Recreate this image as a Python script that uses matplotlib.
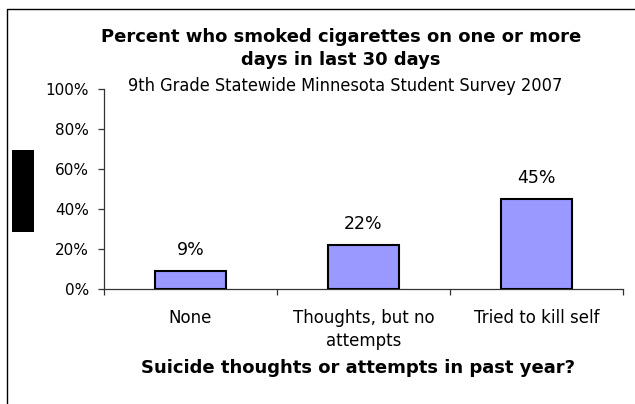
import matplotlib
matplotlib.use("Agg")
import matplotlib.pyplot as plt
from matplotlib.lines import Line2D
from matplotlib.patches import Rectangle
from matplotlib.ticker import PercentFormatter, FixedLocator, FixedFormatter

categories = ["None", "Thoughts, but no\nattempts", "Tried to kill self"]
values = [9, 22, 45]
value_labels = ["9%", "22%", "45%"]
yticks = [0, 20, 40, 60, 80, 100]

W, H = 635, 404
fig = plt.figure(figsize=(W / 100, H / 100), dpi=100)
fig.patch.set_facecolor("white")
plt.rcParams["font.family"] = ["DejaVu Sans"]

def fx(px):
    return px / W

def fy(py):
    return 1 - py / H

ax = fig.add_axes([fx(104), fy(289.3), fx(623) - fx(104), fy(89.3) - fy(289.3)])
x = list(range(len(categories)))
ax.bar(x, values, width=0.405, color="#9999FF", edgecolor="black", linewidth=1.5, zorder=3)
ax.set_xlim(-0.5, len(categories) - 0.5)
ax.set_ylim(0, 100)
ax.set_yticks(yticks)
ax.yaxis.set_major_formatter(PercentFormatter(decimals=0))
ax.set_xticks([i + 0.5 for i in range(-1, len(categories))])
ax.set_xticklabels([])
ax.xaxis.set_minor_locator(FixedLocator(x))
ax.xaxis.set_minor_formatter(FixedFormatter(categories))
for s in ["top", "right"]:
    ax.spines[s].set_visible(False)
for s in ["left", "bottom"]:
    ax.spines[s].set_color("#333333")
    ax.spines[s].set_linewidth(0.9)
ax.tick_params(axis="y", direction="out", length=4.3, width=0.9, color="#333333", pad=6.5,
               labelsize=11, labelcolor="black")
ax.tick_params(axis="x", which="major", direction="out", length=4.3, width=0.9, color="#333333")
ax.tick_params(axis="x", which="minor", length=0, pad=14, labelsize=12)
for lbl in ax.xaxis.get_minorticklabels():
    lbl.set_linespacing(1.4)

for i, (v, t) in enumerate(zip(values, value_labels)):
    ax.annotate(t, (i, v), xytext=(0, 21), textcoords="offset pixels", ha="center", va="center",
                fontsize=12.5)

fig.text(fx(341), fy(48.5), "Percent who smoked cigarettes on one or more\ndays in last 30 days",
         ha="center", va="center", fontsize=13, fontweight="bold", linespacing=1.3)
fig.text(fx(345), fy(86), "9th Grade Statewide Minnesota Student Survey 2007", ha="center",
         va="center", fontsize=13, fontstretch="condensed")
fig.text(fx(358), fy(368), "Suicide thoughts or attempts in past year?", ha="center", va="center",
         fontsize=13, fontweight="bold")

# outer border
fig.add_artist(Line2D([fx(7), fx(7), 1.0], [0.0, fy(9), fy(9)], transform=fig.transFigure,
                      color="black", linewidth=1.0))
# black block at left
fig.add_artist(Rectangle((fx(12), fy(232)), fx(34) - fx(12), fy(150) - fy(232),
                         transform=fig.transFigure, facecolor="black", edgecolor="none"))

fig.savefig("out.png", dpi=100)
